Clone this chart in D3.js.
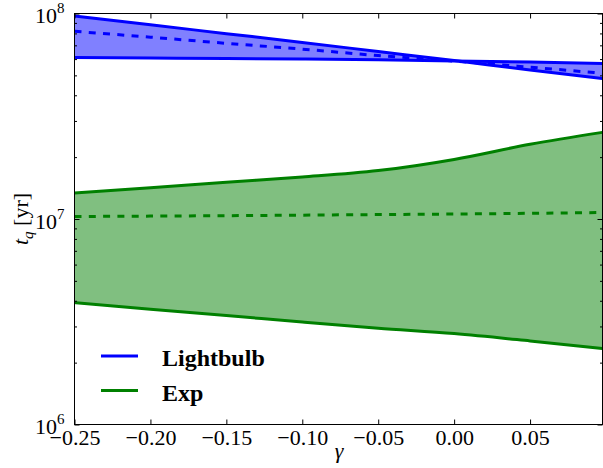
<!DOCTYPE html>
<html>
<head>
<meta charset="utf-8">
<script src="https://cdn.jsdelivr.net/npm/d3@7"></script>
<style>
  body { margin: 0; background: #fff; }
  svg { display: block; }
  text { font-family: "Liberation Serif", "DejaVu Serif", serif; fill: #000; }
</style>
</head>
<body>
<div id="chart"></div>
<script>
// data
var gamma   = [-0.25, -0.20, -0.15, -0.10, -0.05, 0.00, 0.05, 0.0977];
var bulbHi  = [9.72e7, 8.81e7, 7.98e7, 7.23e7, 6.53e7, 5.90e7, 5.31e7, 4.83e7];
var bulbMid = [8.19e7, 7.67e7, 7.16e7, 6.71e7, 6.24e7, 5.87e7, 5.48e7, 5.12e7];
var bulbLo  = [6.10e7, 6.07e7, 6.04e7, 6.00e7, 5.95e7, 5.88e7, 5.80e7, 5.71e7];
var expHi   = [1.34e7, 1.42e7, 1.51e7, 1.60e7, 1.72e7, 1.95e7, 2.31e7, 2.64e7];
var expMid  = [1.028e7, 1.033e7, 1.038e7, 1.044e7, 1.051e7, 1.057e7, 1.066e7, 1.075e7];
var expLo   = [3.92e6, 3.64e6, 3.39e6, 3.15e6, 2.94e6, 2.77e6, 2.55e6, 2.34e6];

var xTicks = [-0.25, -0.20, -0.15, -0.10, -0.05, 0.00, 0.05];
var yMajor = [1e6, 1e7, 1e8];
var yMinor = [2e6, 3e6, 4e6, 5e6, 6e6, 7e6, 8e6, 9e6, 2e7, 3e7, 4e7, 5e7, 6e7, 7e7, 8e7, 9e7];

var series = [
  { name: 'Lightbulb', color: '#0000ff', fill: '#8080ff', hi: bulbHi, mid: bulbMid, lo: bulbLo },
  { name: 'Exp',       color: '#008000', fill: '#80bf80', hi: expHi,  mid: expMid,  lo: expLo }
];

var W = 603, H = 468;
var pL = 74.5, pR = 602.5, pT = 13.5, pB = 424.5;

var svg = d3.select('#chart').append('svg').attr('width', W).attr('height', H);

var x = d3.scaleLinear().domain([gamma[0], gamma[gamma.length - 1]]).range([pL, pR]);
var y = d3.scaleLog().domain([1e6, 1e8]).range([pB, pT]);

svg.append('clipPath').attr('id', 'plot')
  .append('rect').attr('x', pL).attr('y', pT).attr('width', pR - pL).attr('height', pB - pT);

var g = svg.append('g').attr('clip-path', 'url(#plot)');

var area = function(s) {
  return d3.area()
    .curve(d3.curveMonotoneX)
    .x(function(d, i) { return x(gamma[i]); })
    .y0(function(d, i) { return y(s.lo[i]); })
    .y1(function(d, i) { return y(s.hi[i]); });
};
var line = function(arr) {
  return d3.line()
    .curve(d3.curveMonotoneX)
    .x(function(d, i) { return x(gamma[i]); })
    .y(function(d) { return y(d); })(arr);
};

// fills
series.forEach(function(s) {
  g.append('path').attr('d', area(s)(gamma)).attr('fill', s.fill).attr('stroke', 'none');
});

// lines
series.forEach(function(s) {
  [s.hi, s.lo].forEach(function(arr) {
    g.append('path').attr('d', line(arr)).attr('fill', 'none')
      .attr('stroke', s.color).attr('stroke-width', 3);
  });
  g.append('path').attr('d', line(s.mid)).attr('fill', 'none')
    .attr('stroke', s.color).attr('stroke-width', 3).attr('stroke-dasharray', '7,7.3');
});

/* axes
===============================*/
var tickFmt = function(d) {
  var s = d3.format('.2f')(Math.abs(d));
  return (d < 0 ? '\u2212' : '') + s;
};

var xb = svg.append('g').attr('transform', 'translate(0,' + pB + ')')
  .call(d3.axisBottom(x).tickValues(xTicks).tickFormat(tickFmt).tickSizeInner(-5).tickSizeOuter(0));
xb.selectAll('text').attr('y', 20.5).attr('dy', null).style('font-size', '22px');

svg.append('g').attr('transform', 'translate(0,' + pT + ')')
  .call(d3.axisTop(x).tickValues(xTicks).tickFormat('').tickSizeInner(-5).tickSizeOuter(0));

var yl = svg.append('g').attr('transform', 'translate(' + pL + ',0)')
  .call(d3.axisLeft(y).tickValues(yMajor).tickFormat('').tickSizeInner(-5).tickSizeOuter(0));
svg.append('g').attr('transform', 'translate(' + pL + ',0)')
  .call(d3.axisLeft(y).tickValues(yMinor).tickFormat('').tickSizeInner(-2.5).tickSizeOuter(0));
svg.append('g').attr('transform', 'translate(' + pR + ',0)')
  .call(d3.axisRight(y).tickValues(yMajor).tickFormat('').tickSizeInner(-5).tickSizeOuter(0));
svg.append('g').attr('transform', 'translate(' + pR + ',0)')
  .call(d3.axisRight(y).tickValues(yMinor).tickFormat('').tickSizeInner(-2.5).tickSizeOuter(0));

svg.selectAll('.domain').remove();
svg.selectAll('.tick line').attr('stroke', '#000').attr('stroke-width', 1);

// y tick labels as 10^n
yl.selectAll('.tick').each(function(d) {
  var t = d3.select(this).append('text')
    .attr('x', -10).attr('y', 9).attr('text-anchor', 'end').style('font-size', '22px');
  t.append('tspan').text('10');
  t.append('tspan').attr('dy', -10).style('font-size', '15px').text(Math.round(Math.log10(d)));
});

// frame
svg.append('rect').attr('x', pL).attr('y', pT)
  .attr('width', pR - pL).attr('height', pB - pT)
  .attr('fill', 'none').attr('stroke', '#000').attr('stroke-width', 1);

// axis labels
svg.append('text').attr('x', 339).attr('y', 458).attr('text-anchor', 'middle')
  .style('font-size', '22px').style('font-style', 'italic').text('\u03b3');

var yLab = svg.append('text')
  .attr('transform', 'translate(28,' + ((pT + pB) / 2) + ') rotate(-90)')
  .attr('text-anchor', 'middle').style('font-size', '22px');
yLab.append('tspan').style('font-style', 'italic').text('t');
yLab.append('tspan').attr('dy', 5).style('font-size', '15px').style('font-style', 'italic').text('q');
yLab.append('tspan').attr('dy', -5).text(' [yr]');

// legend
var leg = svg.append('g').selectAll('g').data(series).enter().append('g')
  .attr('transform', function(d, i) { return 'translate(0,' + (356 + i * 34.5) + ')'; });
leg.append('line').attr('x1', 101).attr('x2', 138).attr('y1', 0).attr('y2', 0)
  .attr('stroke', function(d) { return d.color; }).attr('stroke-width', 3);
leg.append('text').attr('x', 162).attr('y', 10)
  .style('font-size', '24px').style('font-weight', 'bold')
  .text(function(d) { return d.name; });
</script>
</body>
</html>
